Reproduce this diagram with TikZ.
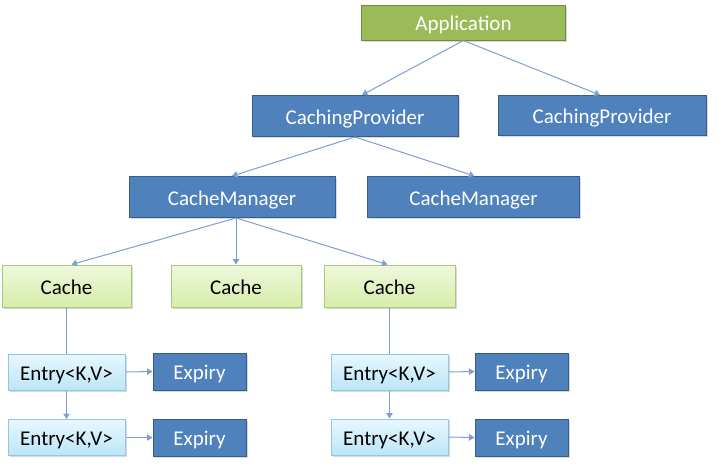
\documentclass[tikz,border=0pt]{standalone}
\usepackage{fontspec}
\setmainfont{Carlito}
\usetikzlibrary{arrows.meta,shadows}
\definecolor{appfill}{HTML}{9BBB59}
\definecolor{appdraw}{HTML}{71893F}
\definecolor{bluefill}{HTML}{4F81BD}
\definecolor{bluedraw}{HTML}{385D8A}
\definecolor{cachetop}{HTML}{F0F8DC}
\definecolor{cachebot}{HTML}{D6EDAA}
\definecolor{cachedraw}{HTML}{A9C87A}
\definecolor{entrytop}{HTML}{E8F7FE}
\definecolor{entrybot}{HTML}{BCE5F8}
\definecolor{entrydraw}{HTML}{8DC9E4}
\definecolor{linkcol}{HTML}{7F9FD2}
\tikzset{
  box/.style={rectangle, inner sep=0pt, line width=1pt, font=\fontsize{21}{24}\selectfont,
    text height=20pt, text depth=4pt,
    drop shadow={shadow xshift=1.5pt, shadow yshift=-1.5pt, opacity=0.25, fill=black!60}},
  appbox/.style={box, fill=appfill, draw=appdraw, text=white},
  bluebox/.style={box, fill=bluefill, draw=bluedraw, text=white},
  cachebox/.style={box, top color=cachetop, bottom color=cachebot, draw=cachedraw, text=black},
  entrybox/.style={box, top color=entrytop, bottom color=entrybot, draw=entrydraw, text=black},
  link/.style={draw=linkcol, line width=1pt, -{Triangle[width=6.5pt,length=5.5pt]}},
  plainlink/.style={draw=linkcol, line width=1pt},
}
\begin{document}
\begin{tikzpicture}[x=1pt,y=-1pt]
\useasboundingbox (0,0) rectangle (723,469);
% nodes: center, width, height
\node[appbox, minimum width=204pt, minimum height=35pt] (app) at (463.5,22.5) {Application};
\node[bluebox, minimum width=206pt, minimum height=41pt] (cp1) at (355,116) {CachingProvider};
\node[bluebox, minimum width=208pt, minimum height=40pt] (cp2) at (602,115.5) {CachingProvider};
\node[bluebox, minimum width=206pt, minimum height=41pt] (cm1) at (232,197) {CacheManager};
\node[bluebox, minimum width=212pt, minimum height=41pt] (cm2) at (473.5,197) {CacheManager};
\node[cachebox, minimum width=129pt, minimum height=42pt] (c1) at (66.5,286) {Cache};
\node[cachebox, minimum width=130pt, minimum height=42pt] (c2) at (236,286) {Cache};
\node[cachebox, minimum width=131pt, minimum height=42pt] (c3) at (389.5,286) {Cache};
\node[entrybox, minimum width=117pt, minimum height=36pt] (e1) at (66.5,372) {Entry<K,V>};
\node[bluebox, minimum width=93pt, minimum height=37pt] (x1) at (199.5,371.5) {Expiry};
\node[entrybox, minimum width=117pt, minimum height=36pt] (e2) at (66.5,437.5) {Entry<K,V>};
\node[bluebox, minimum width=93pt, minimum height=37pt] (x2) at (199.5,437.5) {Expiry};
\node[entrybox, minimum width=117pt, minimum height=36pt] (e3) at (389.5,372) {Entry<K,V>};
\node[bluebox, minimum width=93pt, minimum height=37pt] (x3) at (521.5,371.5) {Expiry};
\node[entrybox, minimum width=117pt, minimum height=36pt] (e4) at (389.5,437) {Entry<K,V>};
\node[bluebox, minimum width=93pt, minimum height=37pt] (x4) at (521.5,437.5) {Expiry};
% connectors
\draw[link] (app.south) -- ([xshift=7pt]cp1.north);
\draw[link] (app.south) -- ([xshift=-2pt]cp2.north);
\draw[link] (cp1.south) -- (cm1.north);
\draw[link] (cp1.south) -- ([xshift=1pt]cm2.north);
\draw[link] ([xshift=4pt]cm1.south) -- ([xshift=5pt]c1.north);
\draw[link] ([xshift=4pt]cm1.south) -- (c2.north);
\draw[link] ([xshift=4pt]cm1.south) -- ([xshift=-2pt]c3.north);
\draw[plainlink] (c1.south) -- (e1.north);
\draw[plainlink] (c3.south) -- (e3.north);
\draw[link] (e1.south) -- (e2.north);
\draw[link] (e3.south) -- (e4.north);
\draw[link] (e1.east) -- (x1.west);
\draw[link] (e2.east) -- (x2.west);
\draw[link] (e3.east) -- (x3.west);
\draw[link] (e4.east) -- (x4.west);
\end{tikzpicture}
\end{document}
